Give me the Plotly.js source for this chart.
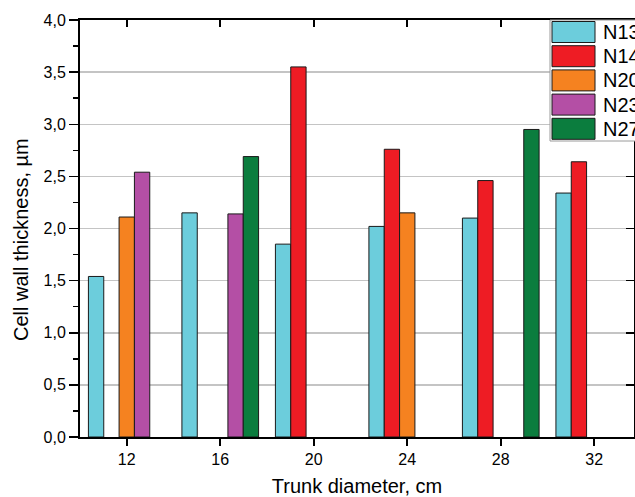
<!DOCTYPE html>
<html>
<head>
<meta charset="utf-8">
<script src="https://cdn.plot.ly/plotly-3.0.1.min.js"></script>
<style>
  html, body { margin: 0; padding: 0; overflow: hidden; background: #fff; }
  #chart { width: 635px; height: 497px; }
</style>
</head>
<body>
<div id="chart"></div>
<script>
// ---- data ----
var diameters = [12, 16, 20, 24, 28, 32];
var seriesNames = ["N13", "N14", "N20", "N23", "N27"];
var seriesColors = ["#6ccddc", "#ee1c24", "#f58220", "#b44fa5", "#0b7d3e"];
var N13 = [1.54, 2.15, 1.85, 2.02, 2.10, 2.34];
var N14 = [null, null, 3.55, 2.76, 2.46, 2.64];
var N20 = [2.11, null, null, 2.15, null, null];
var N23 = [2.54, 2.14, null, null, null, null];
var N27 = [null, 2.69, null, null, 2.95, null];
var seriesValues = [N13, N14, N20, N23, N27];
var yTickVals = [0, 0.5, 1, 1.5, 2, 2.5, 3, 3.5, 4];
var xTitle = "Trunk diameter, cm";
var yTitle = "Cell wall thickness, µm";

// ---- layout geometry ----
var W = 635, H = 497;
var M = {l: 80, r: 1, t: 20, b: 60, pad: 0};
var plotW = W - M.l - M.r, plotH = H - M.t - M.b;
function px2x(px) { return (px - M.l) / plotW; }
function px2y(py) { return (H - M.b - py) / plotH; }

var font = "Liberation Sans, Arial, Helvetica, sans-serif";

var traces = seriesNames.map(function (name, i) {
  return {
    type: "bar",
    name: name,
    x: diameters,
    y: seriesValues[i],
    marker: {color: seriesColors[i], line: {color: "#1a1a1a", width: 1}},
    showlegend: false,
    hoverinfo: "x+y+name"
  };
});
// helper trace so the mirrored (top/right) axes are drawn
traces.push({type: "scatter", x: [], y: [], xaxis: "x2", yaxis: "y2", showlegend: false, hoverinfo: "skip"});

// custom legend: box + swatches + labels (drawn from the series arrays)
var shapes = [{
  type: "rect", xref: "paper", yref: "paper", layer: "above",
  x0: px2x(550), x1: px2x(720), y0: px2y(20), y1: px2y(141),
  line: {color: "#9a9a9a", width: 1}, fillcolor: "#ffffff"
}];
var annotations = [];
seriesNames.forEach(function (name, i) {
  var top = 21.5 + i * 24.2;
  shapes.push({
    type: "rect", xref: "paper", yref: "paper", layer: "above",
    x0: px2x(552), x1: px2x(595), y0: px2y(top), y1: px2y(top + 21),
    line: {color: "#1a1a1a", width: 1}, fillcolor: seriesColors[i]
  });
  annotations.push({
    xref: "paper", yref: "paper", x: px2x(601), y: px2y(top + 10.5),
    xanchor: "left", yanchor: "middle", showarrow: false,
    text: name, font: {family: font, size: 20, color: "#000"}
  });
});
// y-axis title (placed slightly below the plot centre, as in the reference)
annotations.push({
  xref: "paper", yref: "paper", x: px2x(21), y: px2y(240), textangle: -90,
  xanchor: "center", yanchor: "middle", showarrow: false,
  text: yTitle, font: {family: font, size: 20, color: "#000"}
});

var layout = {
  width: W, height: H,
  margin: M,
  paper_bgcolor: "#ffffff", plot_bgcolor: "#ffffff",
  font: {family: font, size: 16, color: "#000"},
  separators: ", ",
  barmode: "group", bargap: 0.18, bargroupgap: 0,
  xaxis: {
    range: [10, 33.7], tickvals: diameters, ticktext: diameters.map(String),
    ticks: "outside", ticklen: 7, tickwidth: 2, tickcolor: "#000",
    showline: true, linewidth: 2, linecolor: "#000",
    showgrid: false, zeroline: false,
    tickfont: {size: 16},
    title: {text: xTitle, font: {size: 20}, standoff: 14}
  },
  xaxis2: {
    overlaying: "x", side: "top", matches: "x", range: [10, 33.7], tickvals: diameters,
    ticks: "inside", ticklen: 7, tickwidth: 2, tickcolor: "#000",
    showticklabels: false, showline: true, linewidth: 2, linecolor: "#000",
    showgrid: false, zeroline: false
  },
  yaxis: {
    range: [0, 4], tickvals: yTickVals, tickformat: ".1f",
    ticks: "outside", ticklen: 9, tickwidth: 1.5, tickcolor: "#000",
    minor: {dtick: 0.25, ticks: "outside", ticklen: 5, tickwidth: 1.5, tickcolor: "#000", showgrid: false},
    showline: true, linewidth: 2, linecolor: "#000",
    showgrid: true, gridcolor: "#c4c4c4", gridwidth: 1.5, zeroline: false,
    tickfont: {size: 16}
  },
  yaxis2: {
    overlaying: "y", side: "right", matches: "y", range: [0, 4], tickvals: yTickVals,
    ticks: "inside", ticklen: 8, tickwidth: 1.5, tickcolor: "#000",
    showticklabels: false, showline: true, linewidth: 2, linecolor: "#000",
    showgrid: false, zeroline: false
  },
  shapes: shapes,
  annotations: annotations
};

Plotly.newPlot("chart", traces, layout, {displayModeBar: false, staticPlot: true});
</script>
</body>
</html>
